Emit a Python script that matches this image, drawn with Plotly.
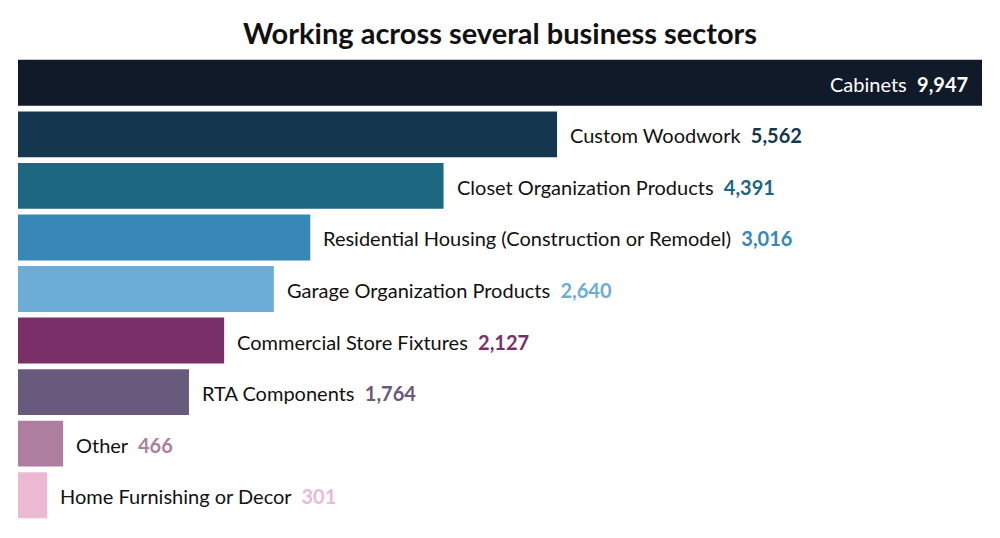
import plotly.graph_objects as go

categories = ["Cabinets", "Custom Woodwork", "Closet Organization Products",
              "Residential Housing (Construction or Remodel)", "Garage Organization Products",
              "Commercial Store Fixtures", "RTA Components", "Other", "Home Furnishing or Decor"]
values = [9947, 5562, 4391, 3016, 2640, 2127, 1764, 466, 301]
colors = ["#101a29", "#15364f", "#1d6780", "#3788b6", "#6cadd7",
          "#7a2f69", "#675a7c", "#ad7ea0", "#ecb9d2"]

FONT = "Lato"

fig = go.Figure(go.Bar(
    x=values, y=categories, orientation="h",
    marker=dict(color=colors, line=dict(width=0)),
    hoverinfo="skip",
))

annotations = []
for i, (c, v, col) in enumerate(zip(categories, values, colors)):
    if i == 0:
        annotations.append(dict(
            x=v, y=c, xref="x", yref="y", xanchor="right", xshift=-12, yshift=-1,
            text=f"{c}&nbsp;&nbsp;<b>{v:,}</b>", showarrow=False,
            font=dict(family=FONT, size=20, color="white")))
    else:
        annotations.append(dict(
            x=v, y=c, xref="x", yref="y", xanchor="left", xshift=11, yshift=-1,
            text=f"{c}&nbsp;&nbsp;<b><span style='color:{col}'>{v:,}</span></b>", showarrow=False,
            font=dict(family=FONT, size=20, color="#111111")))

fig.update_layout(
    width=1000, height=538,
    margin=dict(l=18, r=18, t=57, b=17),
    paper_bgcolor="white", plot_bgcolor="white",
    title=dict(text="<b>Working across several business sectors</b>", x=0.5, xanchor="center",
               y=0.937, yanchor="middle",
               font=dict(family=FONT, size=29, color="#111111")),
    xaxis=dict(range=[0, 9947], visible=False, fixedrange=True),
    yaxis=dict(autorange="reversed", visible=False, fixedrange=True),
    bargap=0.11,
    showlegend=False,
    annotations=annotations,
)

fig.write_html("out.html")
